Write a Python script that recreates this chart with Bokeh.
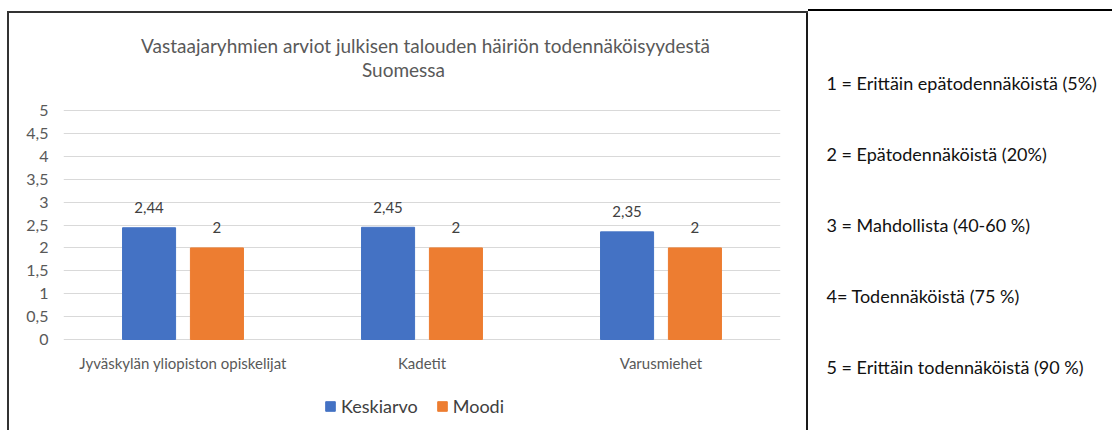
from bokeh.plotting import figure
from bokeh.models import (FactorRange, Range1d, ColumnDataSource, Legend, LegendItem,
                          CustomJSTickFormatter, FixedTicker)
from bokeh.transform import dodge
from bokeh.layouts import row
from bokeh.embed import file_html
from bokeh.resources import INLINE
from bokeh.core.properties import value

# ---------------- data ----------------
groups = ["Jyväskylän yliopiston opiskelijat", "Kadetit", "Varusmiehet"]
keskiarvo = [2.44, 2.45, 2.35]
moodi = [2, 2, 2]
series_names = ["Keskiarvo", "Moodi"]
y_ticks = [0, 0.5, 1, 1.5, 2, 2.5, 3, 3.5, 4, 4.5, 5]
title_lines = ["Vastaajaryhmien arviot julkisen talouden häiriön todennäköisyydestä",
               "Suomessa"]
scale_notes = ["1 = Erittäin epätodennäköistä (5%)",
               "2 = Epätodennäköistä (20%)",
               "3 = Mahdollista (40-60 %)",
               "4= Todennäköistä (75 %)",
               "5 = Erittäin todennäköistä (90 %)"]

# ---------------- style / layout ----------------
BLUE = "#4472C4"
ORANGE = "#ED7D31"
GRID = "#D9D9D9"
TXT = "#595959"
FONT = "Lato"

W1, H = 808, 430
FRAME_L, FRAME_R = 63, 780              # pixel columns of the plot frame
Y_TOP_PX, Y_ZERO_PX = 110, 339          # pixel rows of value 5 and value 0
PX_PER_UNIT = (Y_ZERO_PX - Y_TOP_PX) / 5.0


def px_to_y(py):
    return (Y_ZERO_PX - py) / PX_PER_UNIT


def px_to_x(px):
    return (px - FRAME_L) / (FRAME_R - FRAME_L) * len(groups)


def fmt(v):
    return f"{v:g}".replace(".", ",")


src = ColumnDataSource(dict(group=groups, k=keskiarvo, m=moodi,
                            k_lbl=[fmt(v) for v in keskiarvo],
                            m_lbl=[fmt(v) for v in moodi]))

p = figure(x_range=FactorRange(*groups), y_range=Range1d(px_to_y(H), px_to_y(0)),
           width=W1, height=H, output_backend="svg", toolbar_location=None,
           min_border_left=FRAME_L, min_border_right=W1 - FRAME_R, min_border_top=0,
           min_border_bottom=0, title=None)
p.outline_line_color = None
p.background_fill_color = None
p.border_fill_color = None

# y axis
p.yaxis.ticker = FixedTicker(ticks=y_ticks)
p.yaxis.formatter = CustomJSTickFormatter(code="return tick.toString().replace('.', ',');")
ax = p.yaxis[0]
ax.axis_line_color = None
ax.major_tick_line_color = None
ax.minor_tick_line_color = None
ax.major_tick_out = 0
ax.major_tick_in = 0
ax.major_label_text_font = FONT
ax.major_label_text_color = TXT
ax.major_label_text_font_size = "16px"
ax.major_label_standoff = 15
p.xaxis.visible = False
p.xgrid.grid_line_color = None
p.ygrid.grid_line_color = GRID
p.ygrid.grid_line_width = 1

# title (two lines)
p.text(x=[px_to_x(425), px_to_x(403)], y=[px_to_y(45), px_to_y(69)], text=title_lines,
       text_align="center", text_baseline="middle", text_font=value(FONT),
       text_font_size="19px", text_color=TXT)

# category labels under the zero line
p.text(x="group", y=0, text="group", source=src, text_align="center",
       text_baseline="middle", y_offset=23, text_font=value(FONT),
       text_font_size="15px", text_color=TXT)

OFF = 0.142
BW = 0.222
r1 = p.vbar(x=dodge("group", -OFF, range=p.x_range), top="k", bottom=0, width=BW,
            source=src, fill_color=BLUE, line_color=BLUE)
r2 = p.vbar(x=dodge("group", OFF, range=p.x_range), top="m", bottom=0, width=BW,
            source=src, fill_color=ORANGE, line_color=ORANGE)

for xoff, col, lbl in ((-OFF, "k", "k_lbl"), (OFF, "m", "m_lbl")):
    p.text(x=dodge("group", xoff, range=p.x_range), y=col, text=lbl, source=src,
           text_align="center", text_baseline="middle", y_offset=-20,
           text_font=value(FONT), text_font_size="15px", text_color="#404040")

legend = Legend(items=[LegendItem(label=series_names[0], renderers=[r1]),
                       LegendItem(label=series_names[1], renderers=[r2])],
                orientation="horizontal", location=(261, H - 417))
legend.border_line_color = None
legend.background_fill_alpha = 0
legend.padding = 0
legend.margin = 0
legend.glyph_width = 12
legend.glyph_height = 12
legend.label_standoff = 5
legend.spacing = 18
legend.label_text_font = FONT
legend.label_text_font_size = "18px"
legend.label_text_color = "#404040"
p.add_layout(legend)

# chart box lines painted behind the transparent canvas
p.styles = {"background": (
    "linear-gradient(#333,#333) 7px 11px / 2px 100% no-repeat, "
    "linear-gradient(#333,#333) 7px 11px / 801px 2px no-repeat, "
    "linear-gradient(#1a1a1a,#1a1a1a) 806px 11px / 2px 100% no-repeat, white")}

# ---------------- right note panel ----------------
W2 = 304
p2 = figure(width=W2, height=H, x_range=Range1d(0, W2), y_range=Range1d(H, 0),
            output_backend="svg", toolbar_location=None, min_border=0)
p2.axis.visible = False
p2.grid.grid_line_color = None
p2.outline_line_color = None
p2.background_fill_color = None
p2.border_fill_color = None
note_x = [18] * len(scale_notes)
note_y = [82 + 71 * i for i in range(len(scale_notes))]
p2.text(x=note_x, y=note_y, text=scale_notes, text_font=value(FONT),
        text_font_size="18px", text_baseline="middle", text_color="#111111")
p2.styles = {"background": "linear-gradient(#000,#000) 0 9px / 100% 2px no-repeat, white"}

layout = row(p, p2)
open("out.html", "w").write(file_html(layout, INLINE))
